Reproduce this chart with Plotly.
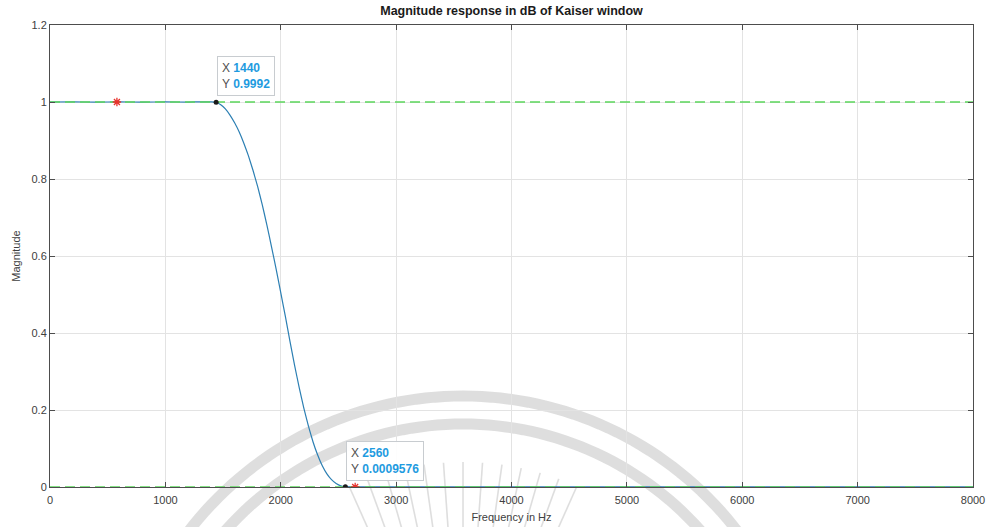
import math
import plotly.graph_objects as go

# Magnitude response of the Kaiser-window low-pass filter (linear magnitude)
freq_hz = [0, 200, 400, 600, 800, 1000, 1200, 1300, 1400, 1440,
           1480, 1520, 1560, 1600, 1640, 1680, 1720, 1760, 1800, 1840,
           1880, 1920, 1960, 2000, 2040, 2080, 2120, 2160, 2200, 2240,
           2280, 2320, 2360, 2400, 2440, 2480, 2520, 2560,
           2600, 2800, 3000, 3500, 4000, 4500, 5000, 5500, 6000, 6500, 7000, 7500, 8000]
magnitude = [1.0, 1.0003, 0.9998, 1.0002, 0.9997, 1.0003, 0.9998, 1.0004, 1.0003, 0.9992,
             0.993, 0.982, 0.966, 0.946, 0.922, 0.893, 0.860, 0.822, 0.780, 0.733,
             0.680, 0.624, 0.566, 0.505, 0.443, 0.378, 0.316, 0.258, 0.205, 0.158,
             0.117, 0.083, 0.055, 0.034, 0.019, 0.009, 0.003, 0.0009576,
             0.0004, 0.0003, 0.0002, 0.0002, 0.0001, 0.0002, 0.0001, 0.0001, 0.0001,
             0.0001, 0.0001, 0.0001, 0.0001]

# Ideal pass-band / stop-band reference levels
ref_levels = [1, 0]
x_span = [0, 8000]

# Band-edge markers
edge_x = [580, 2645]
edge_y = [1, 0]

# Data tips
tip_x = [1440, 2560]
tip_y = [0.9992, 0.0009576]
tip_labels = ["0.9992", "0.0009576"]

x_ticks = [0, 1000, 2000, 3000, 4000, 5000, 6000, 7000, 8000]
y_ticks = [0, 0.2, 0.4, 0.6, 0.8, 1, 1.2]
y_tick_text = ["0", "0.2", "0.4", "0.6", "0.8", "1", "1.2"]

W, H = 988, 527
L, R, T, B = 50, 15, 25, 40
PW, PH = W - L - R, H - T - B
FONT = "Liberation Sans, Arial"

fig = go.Figure()

fig.add_trace(go.Scatter(x=freq_hz, y=magnitude, mode="lines",
                         line=dict(color="#2c7fb3", width=1.2, shape="spline", smoothing=0.3),
                         hoverinfo="skip", showlegend=False))

for lvl in ref_levels:
    fig.add_trace(go.Scatter(x=x_span, y=[lvl, lvl], mode="lines",
                             line=dict(color="#5cd65c", width=1.6, dash="10px,5px"),
                             hoverinfo="skip", showlegend=False))

fig.add_trace(go.Scatter(x=edge_x, y=edge_y, mode="markers",
                         marker=dict(symbol="asterisk-open", size=7, color="#e8322c",
                                     line=dict(color="#e8322c", width=1.3)),
                         hoverinfo="skip", showlegend=False))

fig.add_trace(go.Scatter(x=tip_x, y=tip_y, mode="markers",
                         marker=dict(symbol="circle", size=5, color="#1a1a1a"),
                         hoverinfo="skip", showlegend=False))

for tx, ty, lab in zip(tip_x, tip_y, tip_labels):
    fig.add_annotation(
        x=tx, y=ty, xref="x", yref="y", xanchor="left", yanchor="bottom",
        xshift=1, yshift=6, showarrow=False, align="left",
        text=(f"X <span style='color:#1e9be0'><b>{tx}</b></span><br>"
              f"Y <span style='color:#1e9be0'><b>{lab}</b></span>"),
        font=dict(family=FONT, size=12, color="#505050"),
        bgcolor="rgba(255,255,255,0.92)", bordercolor="#c8ccd0", borderwidth=1,
        borderpad=4)


# Faint emblem behind the axes: two concentric rings with a fan of rays
def px_to_paper(px, py):
    return (px - L) / PW, (H - B - py) / PH


def arc_path(cx, cy, r, a0, a1, n=90):
    pts = []
    for i in range(n + 1):
        a = math.radians(a0 + (a1 - a0) * i / n)
        pts.append(px_to_paper(cx + r * math.cos(a), cy - r * math.sin(a)))
    return "M " + " L ".join(f"{x:.4f},{y:.4f}" for x, y in pts)


cx, cy = 463, 742
for r in (346, 318):
    fig.add_shape(type="path", xref="paper", yref="paper", layer="below",
                  path=arc_path(cx, cy, r, 20, 160),
                  line=dict(color="rgba(190,190,190,0.5)", width=11))
for ang in range(66, 116, 4):
    a = math.radians(ang)
    x0, y0 = px_to_paper(cx + 205 * math.cos(a), cy - 205 * math.sin(a))
    x1, y1 = px_to_paper(cx + 280 * math.cos(a), cy - 280 * math.sin(a))
    fig.add_shape(type="line", xref="paper", yref="paper", layer="below",
                  x0=x0, y0=y0, x1=x1, y1=y1,
                  line=dict(color="rgba(190,190,190,0.5)", width=1.6))

axis_common = dict(
    showgrid=True, gridcolor="#e3e3e3", gridwidth=1,
    showline=True, linecolor="#4d4d4d", linewidth=1, mirror="ticks",
    ticks="inside", ticklen=5, tickcolor="#4d4d4d", zeroline=False,
    automargin=False,
    tickfont=dict(family=FONT, size=11, color="#404040"),
)

fig.update_xaxes(range=[0, 8000], tickvals=x_ticks, ticklabelstandoff=3,
                 title=dict(text="Frequency in Hz", standoff=8,
                            font=dict(family=FONT, size=11, color="#404040")),
                 **axis_common)
fig.update_yaxes(range=[0, 1.2], tickvals=y_ticks, ticktext=y_tick_text,
                 title=dict(text="Magnitude", standoff=8,
                            font=dict(family=FONT, size=11, color="#404040")),
                 **axis_common)

fig.update_layout(
    width=W, height=H,
    margin=dict(l=L, r=R, t=T, b=B),
    paper_bgcolor="white", plot_bgcolor="white",
    title=dict(text="<b>Magnitude response in dB of Kaiser window</b>",
               x=(L + PW / 2) / W, xanchor="center", y=1 - 11 / H, yanchor="middle",
               font=dict(family=FONT, size=12.5, color="#1a1a1a")),
)

fig.write_html("out.html")
